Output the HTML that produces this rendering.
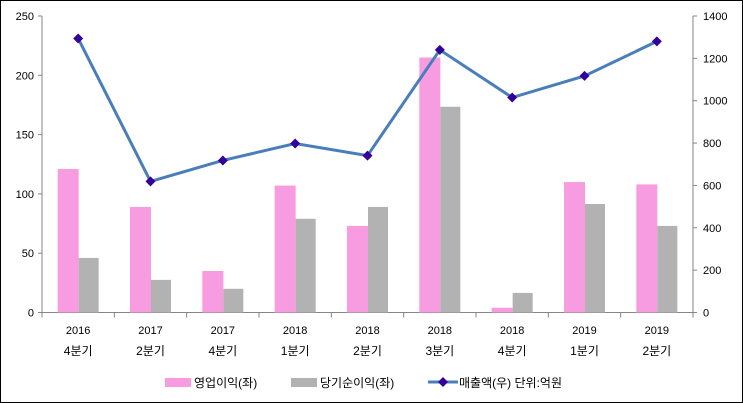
<!DOCTYPE html>
<html><head><meta charset="utf-8"><style>
body{margin:0;background:#fff}
svg{display:block;font-family:"Liberation Sans","Noto Sans CJK KR",sans-serif}
</style></head><body>
<svg id="c" width="743" height="403">
<rect x="0.5" y="0.5" width="742" height="402" fill="#fff" stroke="#000"/>
</svg>
<script>
const years=["2016","2017","2017","2018","2018","2018","2018","2019","2019"];
const quarters=["4분기","2분기","4분기","1분기","2분기","3분기","4분기","1분기","2분기"];
const opProfit=[121,89,35,107,73,215,4,110,108];
const netProfit=[46,27.5,20,79,89,173.5,16.5,91.5,73];
const sales=[1294,619,718,798,741,1240,1015,1117,1280];
const leftTicks=[0,50,100,150,200,250];
const rightTicks=[0,200,400,600,800,1000,1200,1400];
const NS='http://www.w3.org/2000/svg',svg=document.getElementById('c');
const X0=42,X1=693,Y0=312.5,Y1=16;
const cw=(X1-X0)/years.length;
const yL=v=>Y0-(v/250)*(Y0-Y1), yR=v=>Y0-(v/1400)*(Y0-Y1), xc=i=>X0+cw*(i+0.5);
function mk(t,a,txt){const e=document.createElementNS(NS,t);for(const k in a)e.setAttribute(k,a[k]);if(txt!=null)e.textContent=txt;svg.appendChild(e);return e;}
let e;
e=mk('line',{x1:X0,y1:Y1,x2:X0,y2:Y0,stroke:'#868686'});


e=mk('line',{x1:X1,y1:Y1,x2:X1,y2:Y0,stroke:'#868686'});


e=mk('line',{x1:X0,y1:Y0,x2:X1,y2:Y0,stroke:'#868686'});


leftTicks.forEach(v=>{const y=yL(v);mk('line',{x1:X0-4,y1:y,x2:X0,y2:y,stroke:'#868686'});
e=mk('text',{x:X0-8,y:y+4,'text-anchor':'end','font-size':11},v);

});
rightTicks.forEach(v=>{const y=yR(v);mk('line',{x1:X1,y1:y,x2:X1+4,y2:y,stroke:'#868686'});
e=mk('text',{x:X1+10,y:y+4,'font-size':11},v);

});
for(let i=0;i<=years.length;i++)mk('line',{x1:X0+cw*i,y1:Y0,x2:X0+cw*i,y2:Y0+5,stroke:'#868686'});
years.forEach((yv,i)=>{
e=mk('rect',{x:xc(i)-20.5,y:yL(opProfit[i]),width:21,height:Y0-yL(opProfit[i]),fill:'#f79ce0'});


e=mk('rect',{x:xc(i)+0.5,y:yL(netProfit[i]),width:20,height:Y0-yL(netProfit[i]),fill:'#b2b2b2'});


e=mk('text',{x:xc(i),y:334,'text-anchor':'middle','font-size':11},yv);


e=mk('text',{x:xc(i),y:355,'text-anchor':'middle','font-size':12},quarters[i]);


});
e=mk('polyline',{points:sales.map((v,i)=>xc(i)+','+yR(v)).join(' '),fill:'none',stroke:'#4a7ebb','stroke-width':3});


sales.forEach((v,i)=>{const x=xc(i),y=yR(v);
e=mk('polygon',{points:`${x},${y-5} ${x+5},${y} ${x},${y+5} ${x-5},${y}`,fill:'#330099'});

});
// legend
e=mk('rect',{x:165,y:378,width:26,height:9,fill:'#f79ce0'});


e=mk('text',{x:194,y:387,'font-size':12},'영업이익(좌)');


e=mk('rect',{x:291,y:378,width:26,height:9,fill:'#b2b2b2'});


e=mk('text',{x:320,y:387,'font-size':12},'당기순이익(좌)');


mk('line',{x1:428,y1:382,x2:458,y2:382,stroke:'#4a7ebb','stroke-width':3});
e=mk('polygon',{points:'443,377 448,382 443,387 438,382',fill:'#330099'});


e=mk('text',{x:459,y:387,'font-size':12},'매출액(우)  단위:억원');


</script>
</body></html>
